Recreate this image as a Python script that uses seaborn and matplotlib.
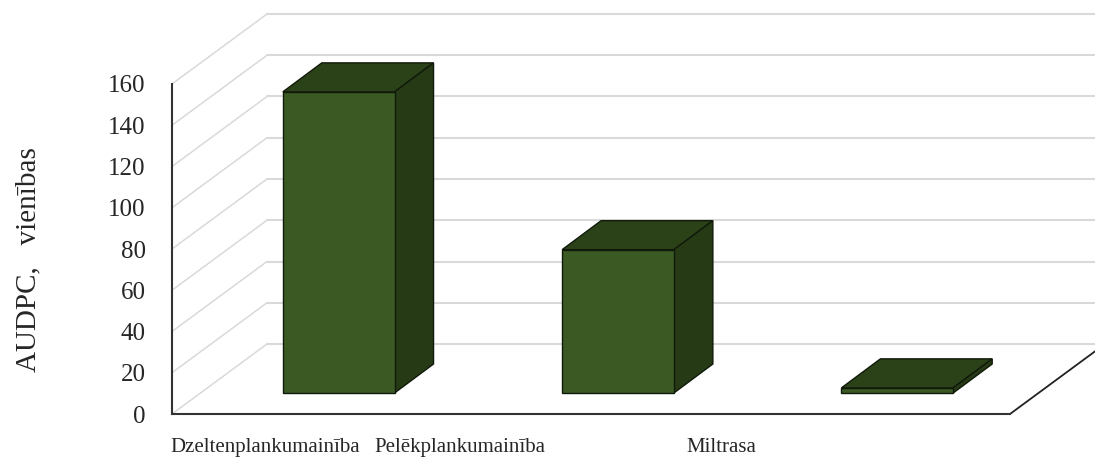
import matplotlib
matplotlib.use("Agg")
import matplotlib.pyplot as plt
from matplotlib.patches import Polygon
import seaborn as sns
import pandas as pd

# ---- data ----
categories = ["Dzeltenplankumainība", "Pelēkplankumainība", "Miltrasa"]
audpc = [146, 69.5, 2.5]
y_ticks = [0, 20, 40, 60, 80, 100, 120, 140, 160]
y_label = "AUDPC,   vienības"

# ---- style ----
front_col = "#3b5a23"
top_col = "#2b4219"
side_col = "#253a15"
edge_col = "#111a0a"
grid_col = "#d9d9d9"

sns.set_style("white")
plt.rcParams["font.family"] = ["Liberation Serif", "DejaVu Serif"]

W, H = 1095, 461
fig = plt.figure(figsize=(W / 100, H / 100), dpi=100)
ax = fig.add_axes([172 / W, (H - 414) / H, (1010 - 172) / W, (414 - 84) / H])
ax.set_xlim(-0.5, 2.5)
ax.set_ylim(0, 160)

px_x = (1010 - 172) / 3.0        # pixels per x unit
px_y = (414 - 84) / 160.0        # pixels per y unit

def off(dxp, dyp):
    return dxp / px_x, dyp / px_y

floor_dx, floor_dy = off(95, 70)
bf_dx, bf_dy = off(27, 21)      # bar front plane offset
bb_dx, bb_dy = off(27 + 39, 21 + 29)  # bar back plane offset

# back wall gridlines and left wall diagonals
for v in y_ticks:
    ax.plot([-0.5 + floor_dx, 2.5 + floor_dx + 1], [v + floor_dy, v + floor_dy],
            color=grid_col, lw=1.5, clip_on=False, zorder=1)
    ax.plot([-0.5, -0.5 + floor_dx], [v, v + floor_dy],
            color=grid_col, lw=1.1, clip_on=False, zorder=1)

# right floor edge
ax.plot([2.5, 2.5 + floor_dx], [0, floor_dy], color="#222222", lw=1.3,
        clip_on=False, zorder=2)

# bars (front faces) via seaborn
df = pd.DataFrame({"cat": categories, "val": audpc})
sns.barplot(data=df, x="cat", y="val", color=front_col, saturation=1,
            width=0.4, edgecolor=edge_col, linewidth=1.0, ax=ax, zorder=5)

for p in list(ax.patches):
    x0 = p.get_x()
    w = p.get_width()
    h = p.get_height()
    x1 = x0 + w
    # shift front face into the depth
    p.set_x(x0 + bf_dx)
    p.set_y(bf_dy)
    p.set_clip_on(False)
    fx0, fx1 = x0 + bf_dx, x1 + bf_dx
    fb, ft = bf_dy, h + bf_dy
    gx = bb_dx - bf_dx
    gy = bb_dy - bf_dy
    top = Polygon([(fx0, ft), (fx1, ft), (fx1 + gx, ft + gy), (fx0 + gx, ft + gy)],
                  closed=True, facecolor=top_col, edgecolor=edge_col, lw=1.0,
                  clip_on=False, zorder=4)
    side = Polygon([(fx1, fb), (fx1 + gx, fb + gy), (fx1 + gx, ft + gy), (fx1, ft)],
                   closed=True, facecolor=side_col, edgecolor=edge_col, lw=1.0,
                   clip_on=False, zorder=4)
    ax.add_patch(top)
    ax.add_patch(side)

# axes styling
for s in ["top", "right"]:
    ax.spines[s].set_visible(False)
for s in ["left", "bottom"]:
    ax.spines[s].set_color("#333333")
    ax.spines[s].set_linewidth(1.5)
    ax.spines[s].set_zorder(3)

ax.set_yticks(y_ticks)
ax.set_yticklabels([str(t) for t in y_ticks], fontsize=18)
ax.tick_params(axis="y", length=0, pad=19)

label_shift = [-0.167, -0.469, -0.534]
ax.set_xticks([i + s for i, s in enumerate(label_shift)])
ax.set_xticklabels(categories, fontsize=15)
ax.tick_params(axis="x", length=0, pad=17)
ax.set_xlabel("")
ax.set_ylabel("")
ax.grid(False)

fig.text(28 / W, 1 - 260 / H, y_label, rotation=90, fontsize=21,
         ha="center", va="center")

fig.savefig("out.png", dpi=100)
